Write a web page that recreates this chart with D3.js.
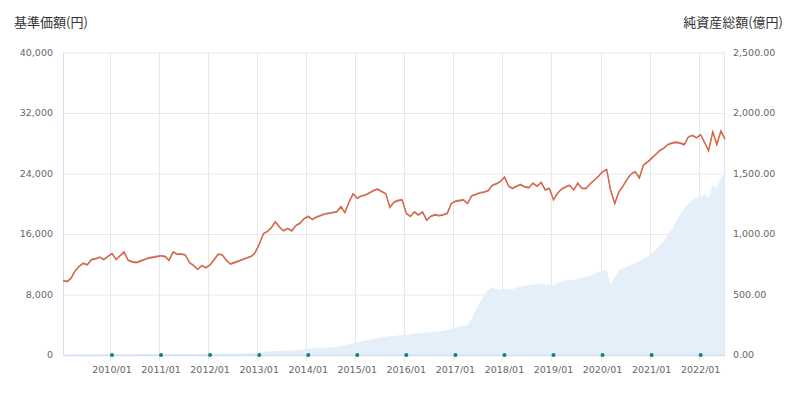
<!DOCTYPE html>
<html>
<head>
<meta charset="utf-8">
<script src="https://cdn.jsdelivr.net/npm/d3@7"></script>
<style>
  body { margin: 0; background: #fff; }
  svg { display: block; }
</style>
</head>
<body>
<svg id="chart" width="800" height="394"></svg>
<script>
// --- Datos (mensuales, 2009/01 - 2022/07) ---
const startMonth = "2009-01";

// 基準価額 (円)
const priceValues = [
  9800, 9700, 10100, 11100, 11700, 12100, 11900, 12600, 12700, 12900, 12600, 13000,
  13400, 12600, 13100, 13600, 12500, 12300, 12200, 12400, 12600, 12800, 12900, 13000,
  13100, 13000, 12500, 13600, 13300, 13300, 13200, 12200, 11800, 11300, 11800, 11500,
  11900, 12600, 13300, 13200, 12500, 12000, 12200, 12400, 12600, 12800, 13000, 13500,
  14600, 16000, 16300, 16800, 17600, 16900, 16400, 16700, 16400, 17100, 17400, 18000,
  18300, 17900, 18200, 18400, 18600, 18700, 18800, 18900, 19600, 18800, 20200, 21300,
  20700, 21000, 21100, 21400, 21700, 21900, 21600, 21300, 19500, 20200, 20400, 20500,
  18700, 18300, 18900, 18500, 18900, 17800, 18300, 18500, 18400, 18500, 18700, 20000,
  20300, 20400, 20500, 20000, 21000, 21200, 21400, 21500, 21700, 22400, 22600, 22900,
  23500, 22300, 22000, 22300, 22500, 22200, 22100, 22700, 22300, 22800, 21800, 22000,
  20500, 21400, 21900, 22200, 22400, 21800, 22700, 22000, 22000, 22600, 23100, 23600,
  24200, 24500, 21800, 20000, 21500, 22300, 23200, 23900, 24200, 23400, 25100, 25500,
  26000, 26500, 27000, 27300, 27800, 28000, 28100, 28000, 27800, 28800, 29000, 28700,
  29100, 28000, 27000, 29500, 27800, 29600, 28500
];

// 純資産総額 (億円)
const assetValues = [
  3, 3, 3, 4, 4, 4, 5, 5, 5, 5, 6, 6,
  6, 6, 7, 7, 7, 7, 7, 8, 8, 8, 8, 8,
  9, 9, 9, 9, 9, 9, 9, 9, 9, 9, 9, 10,
  10, 11, 12, 12, 12, 12, 13, 13, 14, 15, 16, 18,
  22, 26, 29, 32, 34, 34, 35, 37, 38, 40, 42, 45,
  52, 54, 56, 58, 60, 63, 66, 69, 74, 82, 90, 97,
  105, 112, 118, 125, 132, 138, 146, 150, 155, 158, 162, 165,
  168, 172, 177, 180, 184, 186, 190, 193, 197, 200, 207, 222,
  228, 235, 240, 245, 300, 370, 430, 490, 540, 555, 545, 540,
  550, 540, 545, 555, 565, 570, 575, 580, 585, 590, 580, 585,
  570, 595, 605, 615, 620, 615, 630, 640, 645, 655, 670, 685,
  695, 705, 580, 640, 700, 715, 730, 745, 760, 775, 795, 815,
  840, 870, 900, 940, 990, 1040, 1100, 1160, 1210, 1250, 1280, 1300,
  1310, 1330, 1290, 1400, 1380, 1470, 1500
];

const xTickLabels = [
  "2010/01", "2011/01", "2012/01", "2013/01", "2014/01", "2015/01", "2016/01",
  "2017/01", "2018/01", "2019/01", "2020/01", "2021/01", "2022/01"
];
const leftTicks = [0, 8000, 16000, 24000, 32000, 40000];
const rightTicks = [0, 500, 1000, 1500, 2000, 2500];

// --- Configuración ---
const width = 800, height = 394;
const margin = { top: 52.5, right: 75, bottom: 39, left: 63 };
const parseMonth = d3.timeParse("%Y-%m");
const parseTick = d3.timeParse("%Y/%m");
const start = parseMonth(startMonth);

const priceData = priceValues.map((v, i) => ({ date: d3.timeMonth.offset(start, i), value: v }));
const assetData = assetValues.map((v, i) => ({ date: d3.timeMonth.offset(start, i), value: v }));

const svg = d3.select("#chart");

const x = d3.scaleTime()
  .domain([start, d3.timeMonth.offset(start, priceValues.length - 1)])
  .range([margin.left, width - margin.right]);
const yLeft = d3.scaleLinear().domain([0, 40000]).range([height - margin.bottom, margin.top]);
const yRight = d3.scaleLinear().domain([0, 2500]).range([height - margin.bottom, margin.top]);

const tickDates = xTickLabels.map(parseTick);
const plotBottom = height - margin.bottom;

// Rejilla horizontal
svg.append("g")
  .selectAll("line")
  .data(leftTicks)
  .join("line")
  .attr("x1", margin.left).attr("x2", width - margin.right)
  .attr("y1", d => yLeft(d) + 0.5).attr("y2", d => yLeft(d) + 0.5)
  .attr("stroke", "#e8e8ea");

// Rejilla vertical
svg.append("g")
  .selectAll("line")
  .data(tickDates)
  .join("line")
  .attr("x1", d => Math.round(x(d)) - 1.5).attr("x2", d => Math.round(x(d)) - 1.5)
  .attr("y1", margin.top).attr("y2", plotBottom + 6)
  .attr("stroke", "#e8e8ea");

// Área del patrimonio neto
svg.append("path")
  .datum(assetData)
  .attr("fill", "#e4eff9")
  .attr("d", d3.area()
    .x(d => x(d.date))
    .y0(plotBottom)
    .y1(d => yRight(d.value)));

// Bordes de ejes
svg.append("line")
  .attr("x1", margin.left + 0.5).attr("x2", margin.left + 0.5)
  .attr("y1", margin.top).attr("y2", plotBottom)
  .attr("stroke", "#d3def2");
svg.append("line")
  .attr("x1", width - margin.right - 0.5).attr("x2", width - margin.right - 0.5)
  .attr("y1", margin.top).attr("y2", plotBottom)
  .attr("stroke", "#dde7f5");
svg.append("line")
  .attr("x1", margin.left).attr("x2", width - margin.right)
  .attr("y1", plotBottom + 0.5).attr("y2", plotBottom + 0.5)
  .attr("stroke", "#d3def2").attr("stroke-width", 1.5);

// Línea del precio base
const priceLine = d3.line()
  .x(d => x(d.date))
  .y(d => yLeft(d.value));
svg.append("path")
  .datum(priceData)
  .attr("fill", "none")
  .attr("stroke", "#8ea3bd")
  .attr("stroke-width", 1)
  .attr("transform", "translate(0,-0.8)")
  .attr("d", priceLine);
svg.append("path")
  .datum(priceData)
  .attr("fill", "none")
  .attr("stroke", "#e4613d")
  .attr("stroke-width", 1.4)
  .attr("d", priceLine);

// Puntos en el eje X
svg.append("g")
  .selectAll("circle")
  .data(tickDates)
  .join("circle")
  .attr("cx", d => x(d))
  .attr("cy", plotBottom)
  .attr("r", 2)
  .attr("fill", "#128080");

const font = "'DejaVu Sans', sans-serif";

// Etiquetas del eje X
svg.append("g")
  .selectAll("text")
  .data(tickDates)
  .join("text")
  .attr("x", d => x(d))
  .attr("y", 373)
  .attr("text-anchor", "middle")
  .attr("font-family", font)
  .attr("font-size", 9.5)
  .attr("fill", "#666")
  .text((d, i) => xTickLabels[i]);

// Eje izquierdo
svg.append("g")
  .selectAll("text")
  .data(leftTicks)
  .join("text")
  .attr("x", 53)
  .attr("y", d => yLeft(d))
  .attr("dy", "0.35em")
  .attr("text-anchor", "end")
  .attr("font-family", font)
  .attr("font-size", 9.5)
  .attr("fill", "#666")
  .text(d => d3.format(",")(d));

// Eje derecho
svg.append("g")
  .selectAll("text")
  .data(rightTicks)
  .join("text")
  .attr("x", 733)
  .attr("y", d => yRight(d))
  .attr("dy", "0.35em")
  .attr("text-anchor", "start")
  .attr("font-family", font)
  .attr("font-size", 9.5)
  .attr("fill", "#666")
  .text(d => d3.format(",.2f")(d));

// Títulos
const cjk = "'Noto Sans CJK JP', 'Noto Sans', sans-serif";
svg.append("text")
  .attr("x", 14).attr("y", 27)
  .attr("font-family", cjk).attr("font-size", 13)
  .attr("fill", "#333")
  .text("基準価額(円)");
svg.append("text")
  .attr("x", 783).attr("y", 27)
  .attr("text-anchor", "end")
  .attr("font-family", cjk).attr("font-size", 13)
  .attr("fill", "#333")
  .text("純資産総額(億円)");
</script>
</body>
</html>
